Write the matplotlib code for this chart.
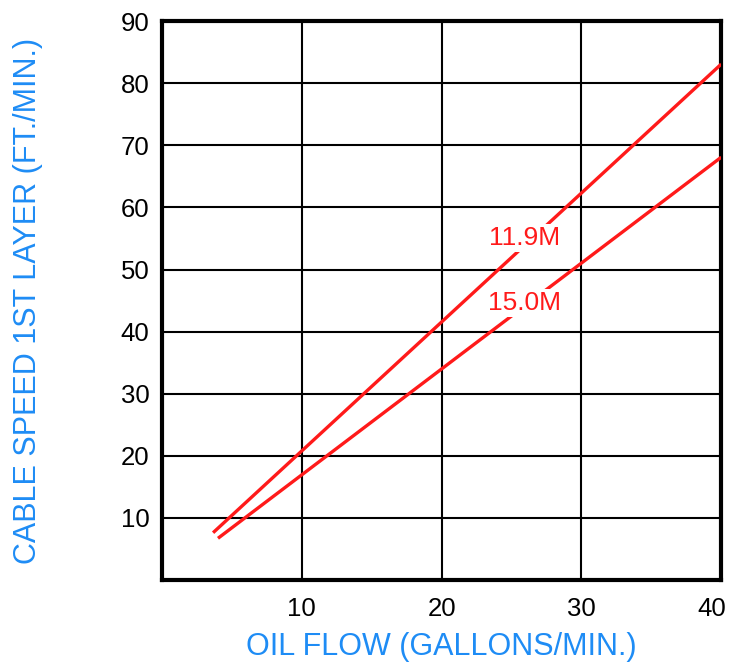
import numpy as np
import matplotlib
matplotlib.use("Agg")
import matplotlib.pyplot as plt
import matplotlib.transforms as mtrans

plt.rcParams.update({
    "font.family": "sans-serif",
    "font.sans-serif": ["Liberation Sans", "Arial", "DejaVu Sans"],
})

RED = "#ff1a1a"
BLUE = "#1e8cf5"

# cable speed (ft/min) vs oil flow (gal/min)
flow_119 = [3.65, 40.0]
speed_119 = [7.6, 83.1]
flow_150 = [4.0, 40.0]
speed_150 = [6.7, 68.1]
line_labels = ["11.9M", "15.0M"]
label_x = [25.9, 25.9]
label_y = [55.1, 44.6]

x_ticks = [10, 20, 30, 40]
y_ticks = [10, 20, 30, 40, 50, 60, 70, 80, 90]

fig = plt.figure(figsize=(7.3, 6.65), dpi=100)
ax = fig.add_axes([0.222, 0.128, 0.766, 0.840])

ax.plot(flow_119, speed_119, color=RED, lw=2.4, zorder=3, solid_capstyle="butt")
ax.plot(flow_150, speed_150, color=RED, lw=2.4, zorder=3, solid_capstyle="butt")
for t, x, y in zip(line_labels, label_x, label_y):
    ax.text(x, y, t, color=RED, fontsize=19, ha="center", va="center", zorder=4,
            bbox=dict(facecolor="white", edgecolor="none", pad=1.5))

ax.set_xlim(0, 40)
ax.set_ylim(0, 90)
ax.set_xticks(x_ticks)
ax.set_yticks(y_ticks)
ax.tick_params(length=0, labelsize=18.5)
ax.tick_params(axis="x", pad=12)
ax.tick_params(axis="y", pad=9)
ax.grid(True, color="black", lw=1.5)
ax.set_axisbelow(True)
for s in ax.spines.values():
    s.set_linewidth(3)

# last x tick label sits a little left so it stays inside the figure
last = ax.get_xticklabels()[-1]
last.set_transform(last.get_transform() + mtrans.ScaledTranslation(-0.09, 0, fig.dpi_scale_trans))

ax.set_xlabel("OIL FLOW (GALLONS/MIN.)", color=BLUE, fontsize=22, labelpad=8)
ax.set_ylabel("CABLE SPEED 1ST LAYER (FT./MIN.)", color=BLUE, fontsize=22, labelpad=56)

fig.savefig("out.png", dpi=100)
